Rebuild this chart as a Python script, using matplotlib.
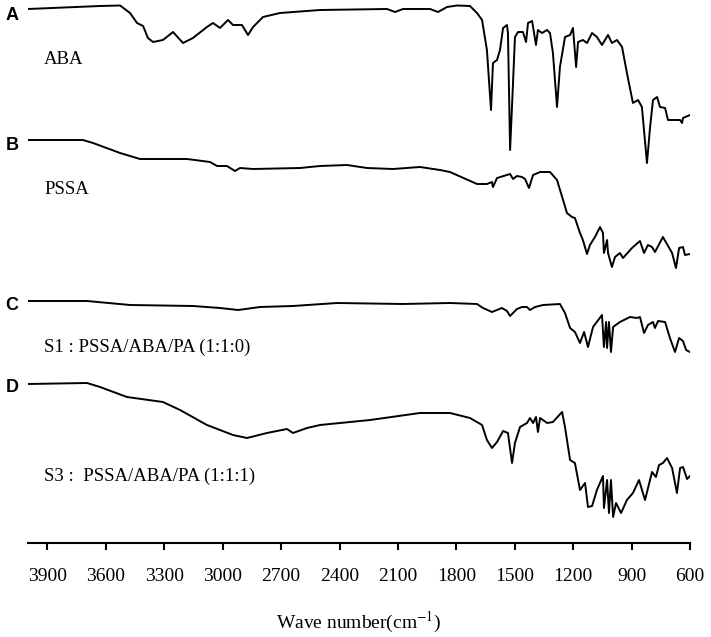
import matplotlib
matplotlib.use('Agg')
import matplotlib.pyplot as plt

plt.rcParams['font.family'] = 'Liberation Serif'
plt.rcParams['mathtext.fontset'] = 'stix'

# FTIR spectra: wavenumber (cm-1) and transmittance (arbitrary offset units)
wn_aba = [4000, 3630, 3527, 3476, 3440, 3409, 3384, 3358, 3307, 3255, 3204, 3153, 3081, 3050, 3014,
          2973, 2947, 2901, 2870, 2844, 2793, 2706, 2500, 2156, 2115, 2074, 1935, 1894, 1848, 1797,
          1730, 1694, 1668, 1643, 1622, 1612, 1591, 1576, 1560, 1540, 1535, 1524, 1509, 1499, 1483,
          1458, 1442, 1432, 1411, 1401, 1391, 1381, 1360, 1334, 1319, 1304, 1283, 1268, 1242, 1216,
          1201, 1185, 1175, 1150, 1129, 1103, 1078, 1052, 1021, 1001, 975, 949, 924, 893, 867,
          847, 821, 805, 790, 769, 754, 728, 713, 651, 641, 636, 600]
t_aba = [534, 537, 537.5, 530, 520, 517, 505, 501, 503, 511, 500, 505, 516, 520, 515,
         523, 518, 518, 508, 516, 526, 530, 533, 534, 531, 534, 534, 531, 536, 537.5,
         537, 530, 523, 493, 433, 480, 483, 493, 515, 518, 510, 393, 460, 506, 511,
         511, 501, 520, 522, 510, 498, 513, 510, 513, 510, 490, 436, 476, 506, 508,
         515, 476, 501, 503, 500, 510, 506, 498, 508, 500, 503, 496, 470, 440, 443,
         436, 380, 416, 443, 446, 436, 435, 423, 423, 420, 425, 428]

wn_pssa = [4000, 3718, 3666, 3527, 3425, 3183, 3065, 3029, 2978, 2937, 2911, 2844, 2603, 2500, 2362,
           2259, 2125, 1987, 1884, 1833, 1694, 1643, 1617, 1612, 1591, 1524, 1509, 1489, 1463, 1447,
           1427, 1406, 1370, 1319, 1283, 1252, 1232, 1206, 1191, 1165, 1150, 1129, 1114, 1088, 1062,
           1047, 1042, 1026, 1021, 1001, 985, 960, 944, 898, 857, 836, 816, 795, 780, 739,
           692, 672, 656, 636, 626, 600]
t_pssa = [403, 403, 400, 390, 384, 384, 381, 377, 377, 372, 375, 374, 375, 377, 378,
          375, 374, 376, 373, 371, 359, 359, 361, 356, 365, 369, 364, 367, 366, 364,
          355, 368, 371, 371, 363, 343, 330, 326, 325, 310, 303, 289, 298, 306, 316,
          310, 290, 303, 290, 276, 286, 290, 285, 295, 302, 290, 298, 296, 291, 306,
          290, 275, 295, 296, 288, 289]

wn_s1 = [4000, 3697, 3476, 3153, 3014, 2921, 2808, 2639, 2413, 2074, 1833, 1694, 1663, 1617, 1566,
         1540, 1524, 1489, 1463, 1437, 1422, 1396, 1355, 1268, 1242, 1216, 1191, 1165, 1144, 1124,
         1098, 1052, 1042, 1031, 1026, 1016, 1006, 995, 960, 908, 872, 857, 836, 816, 790,
         780, 764, 728, 703, 677, 656, 636, 620, 600]
t_s1 = [242, 242, 238, 237, 235, 233, 236, 237, 240, 239, 240, 239, 235, 231, 235,
        232, 227, 234, 236, 236, 233, 236, 238, 239, 230, 215, 211, 200, 211, 196,
        216, 228, 196, 221, 195, 221, 191, 216, 221, 226, 225, 226, 210, 218, 221,
        215, 222, 221, 205, 191, 205, 202, 193, 191]

wn_s3 = [4000, 3697, 3630, 3492, 3307, 3219, 3081, 2947, 2875, 2773, 2670, 2639, 2567, 2500, 2243,
         1987, 1884, 1833, 1730, 1668, 1643, 1617, 1591, 1560, 1535, 1514, 1499, 1473, 1437, 1422,
         1406, 1391, 1381, 1370, 1334, 1304, 1257, 1242, 1216, 1191, 1165, 1139, 1124, 1103, 1078,
         1047, 1042, 1026, 1016, 1006, 995, 980, 954, 924, 893, 862, 831, 795, 775, 759,
         739, 718, 692, 667, 651, 636, 615, 600]
t_s3 = [159, 160, 156, 146, 141, 133, 118, 108, 105, 110, 114, 110, 115, 118, 123,
        130, 130, 130, 125, 118, 103, 95, 101, 112, 110, 80, 100, 116, 120, 125,
        120, 126, 111, 125, 120, 121, 131, 116, 83, 80, 53, 60, 36, 37, 53,
        67, 35, 63, 30, 63, 26, 40, 30, 43, 50, 63, 43, 71, 66, 78,
        80, 85, 75, 50, 75, 76, 64, 67]

panel_tags = ['A', 'B', 'C', 'D']
sample_names = ['ABA', 'PSSA', 'S1 : PSSA/ABA/PA (1:1:0)', 'S3 :  PSSA/ABA/PA (1:1:1)']
xticks = [3900, 3600, 3300, 3000, 2700, 2400, 2100, 1800, 1500, 1200, 900, 600]

fig = plt.figure(figsize=(7.11, 6.37), dpi=100)
ax = fig.add_axes([28/711, 94/637, 662/711, 543/637])

for wn, t in [(wn_aba, t_aba), (wn_pssa, t_pssa), (wn_s1, t_s1), (wn_s3, t_s3)]:
    ax.plot(wn, t, color='black', lw=1.4)

ax.set_xlim(4000, 600)
ax.set_ylim(0, 543)
ax.set_xticks(xticks)
ax.set_xticklabels([str(v) for v in xticks], fontsize=14)
ax.set_yticks([])
for side in ['left', 'right', 'top']:
    ax.spines[side].set_visible(False)
ax.spines['bottom'].set_linewidth(1.5)
ax.tick_params(axis='x', direction='out', length=5, width=1.5, pad=13)
ax.set_xlabel('Wave number(cm$^{-1}$)', fontsize=14, labelpad=18)

# panel letters and sample names (figure pixel positions from the original)
tag_y = [15, 146, 305, 388]
name_y = [59, 189, 347, 476]
for tag, ty in zip(panel_tags, tag_y):
    fig.text(12/711, 1 - ty/637, tag, family='Liberation Sans', weight='bold',
             fontsize=13, ha='center', va='center')
for name, ny in zip(sample_names, name_y):
    fig.text(44/711, 1 - ny/637, name, fontsize=13.5, ha='left', va='center')

fig.savefig('out.png', dpi=100)
